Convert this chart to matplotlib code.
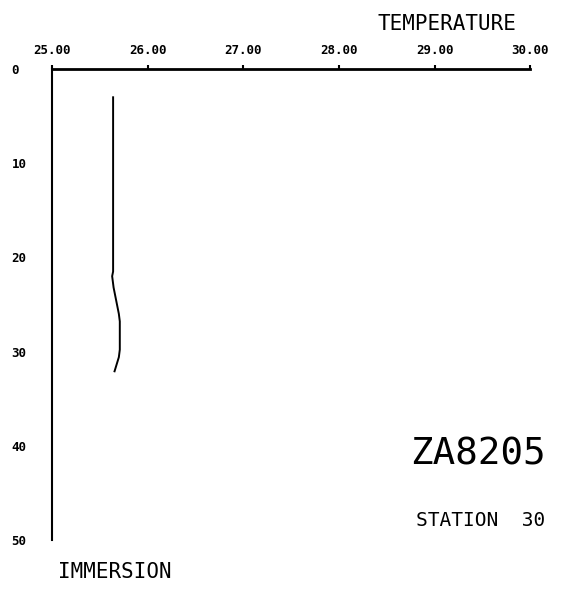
import matplotlib
matplotlib.use("Agg")
import matplotlib.pyplot as plt

# Temperature profile (depth in m, temperature in deg)
temperature = [25.64, 25.64, 25.63, 25.645, 25.70, 25.71, 25.71, 25.70, 25.655]
immersion = [3.0, 21.5, 22.0, 23.2, 26.0, 26.8, 29.8, 30.6, 32.1]

x_ticks = [25, 26, 27, 28, 29, 30]
x_tick_labels = ["25.00", "26.00", "27.00", "28.00", "29.00", "30.00"]
y_ticks = [0, 10, 20, 30, 40, 50]
y_tick_labels = ["0", "10", "20", "30", "40", "50"]

cruise = "ZA8205"
station = "STATION  30"

fig = plt.figure(figsize=(5.64, 5.90), dpi=100)
ax = fig.add_axes([0.092, 0.085, 0.848, 0.798])

ax.plot(temperature, immersion, color="black", linewidth=1.4)

ax.set_xlim(25, 30)
ax.set_ylim(50, 0)
ax.xaxis.tick_top()
ax.set_xticks(x_ticks)
ax.set_xticklabels(x_tick_labels, fontsize=9, fontweight="bold",
                   family="DejaVu Sans Mono")
ax.set_yticks(y_ticks)
ax.set_yticklabels(y_tick_labels, fontsize=9, fontweight="bold",
                   family="DejaVu Sans Mono", ha="left")
ax.tick_params(axis="x", direction="out", length=3, width=1.5, pad=6)
ax.tick_params(axis="y", direction="in", length=0, pad=29)

for s in ["right", "bottom"]:
    ax.spines[s].set_visible(False)
ax.spines["top"].set_linewidth(2.0)
ax.spines["left"].set_linewidth(1.5)

# axis titles and annotations in plotter style
fig.text(0.67, 0.96, "TEMPERATURE", fontsize=15, family="DejaVu Sans Mono",
         ha="left", va="center")
fig.text(0.102, 0.03, "IMMERSION", fontsize=15, family="DejaVu Sans Mono",
         ha="left", va="center")
fig.text(0.967, 0.23, cruise, fontsize=27, family="DejaVu Sans Mono",
         ha="right", va="center")
fig.text(0.967, 0.118, station, fontsize=14, family="DejaVu Sans Mono",
         ha="right", va="center")

fig.savefig("out.png", dpi=100)
